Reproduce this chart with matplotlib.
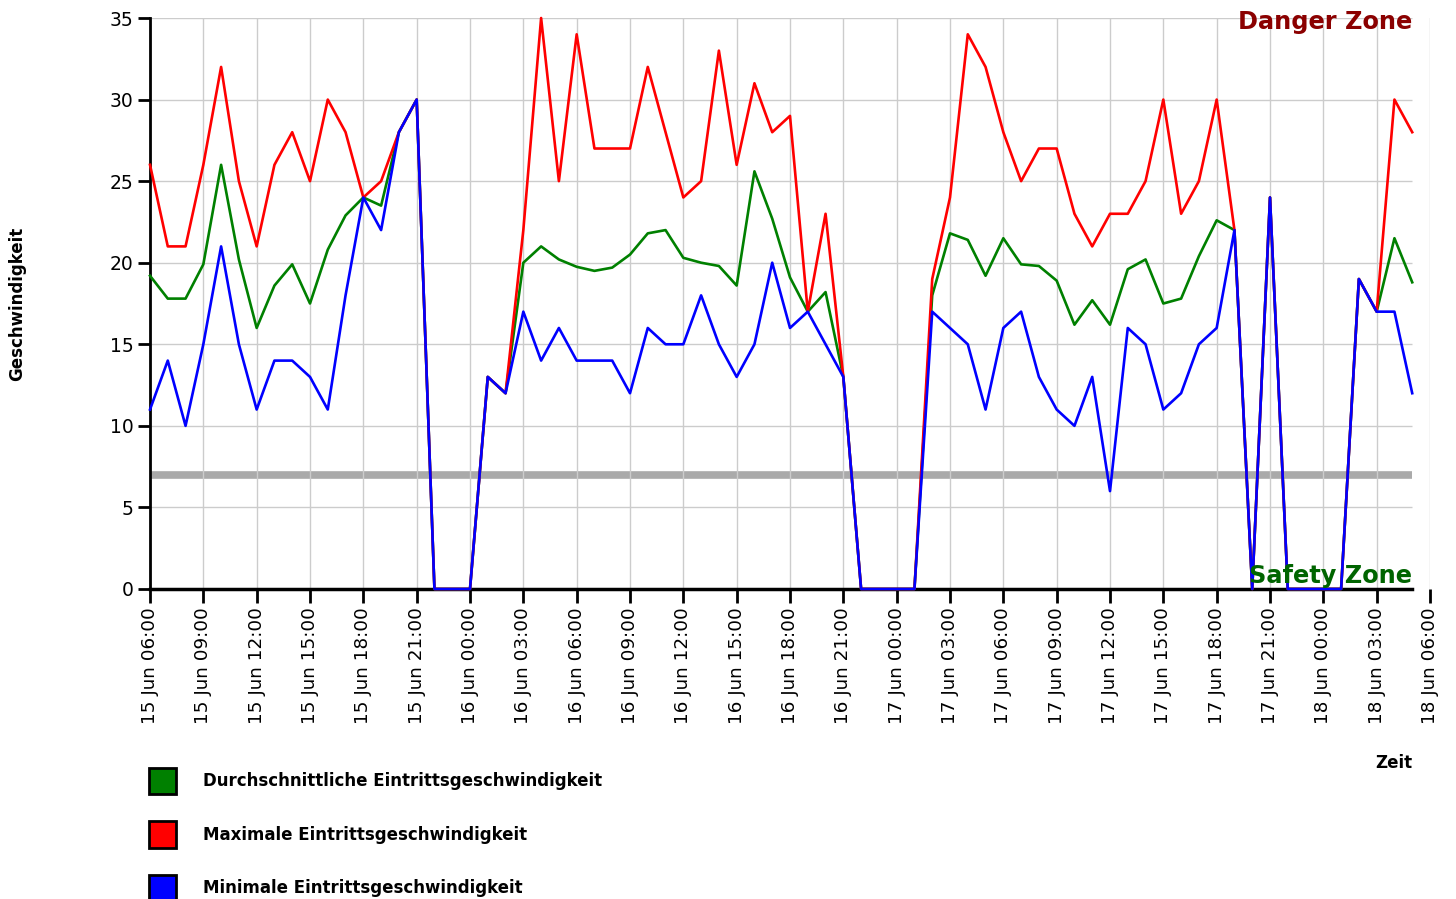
import numpy as np
import pandas as pd
import matplotlib
matplotlib.use('Agg')
import matplotlib.pyplot as plt
import matplotlib.dates as mdates
from matplotlib.patches import Patch

################################## DATA ##################################

# hourly measurements, 15 Jun 06:00 .. 18 Jun 05:00
times = pd.date_range('2024-06-15 06:00', periods=72, freq='h')

avg_speed = [19.2, 17.8, 17.8, 19.9, 26.0, 20.2, 16.0, 18.6, 19.9, 17.5, 20.8, 22.9,
             24.0, 23.5, 28, 30, 0, 0, 0, 13, 12, 20.0, 21.0, 20.2,
             19.75, 19.5, 19.7, 20.5, 21.8, 22.0, 20.3, 20.0, 19.8, 18.6, 25.6, 22.7,
             19.1, 17, 18.2, 13, 0, 0, 0, 0, 18.0, 21.8, 21.4, 19.2,
             21.5, 19.9, 19.8, 18.9, 16.2, 17.7, 16.2, 19.6, 20.2, 17.5, 17.8, 20.4,
             22.6, 22, 0, 24, 0, 0, 0, 0, 19, 17, 21.5, 18.8]

max_speed = [26, 21, 21, 26, 32, 25, 21, 26, 28, 25, 30, 28,
             24, 25, 28, 30, 0, 0, 0, 13, 12, 22, 35, 25,
             34, 27, 27, 27, 32, 28, 24, 25, 33, 26, 31, 28,
             29, 17, 23, 13, 0, 0, 0, 0, 19, 24, 34, 32,
             28, 25, 27, 27, 23, 21, 23, 23, 25, 30, 23, 25,
             30, 22, 0, 24, 0, 0, 0, 0, 19, 17, 30, 28]

min_speed = [11, 14, 10, 15, 21, 15, 11, 14, 14, 13, 11, 18,
             24, 22, 28, 30, 0, 0, 0, 13, 12, 17, 14, 16,
             14, 14, 14, 12, 16, 15, 15, 18, 15, 13, 15, 20,
             16, 17, 15, 13, 0, 0, 0, 0, 17, 16, 15, 11,
             16, 17, 13, 11, 10, 13, 6, 16, 15, 11, 12, 15,
             16, 22, 0, 24, 0, 0, 0, 0, 19, 17, 17, 12]

threshold = 7
y_ticks = [0, 5, 10, 15, 20, 25, 30, 35]

labels = ['Durchschnittliche Eintrittsgeschwindigkeit',
          'Maximale Eintrittsgeschwindigkeit',
          'Minimale Eintrittsgeschwindigkeit']
colors = ['#008000', '#ff0000', '#0000ff']

################################## PLOT ##################################

W, H = 1456, 899
fig = plt.figure(figsize=(W / 100, H / 100), dpi=100)
ax = fig.add_axes([150 / W, 1 - 589 / H, (1430 - 150) / W, (589 - 18) / H])

x = mdates.date2num(times.to_pydatetime())
x_end = x[0] + 72 / 24
ax.xaxis_date()
ax.set_xlim(x[0], x_end)
ax.set_ylim(0, 35)

# grid
ax.grid(axis='x', color='#cccccc', lw=1, zorder=0)
ax.hlines(y_ticks, x[0], x[-1], color='#cccccc', lw=1, zorder=0)
ax.hlines(threshold, x[0], x[-1], color='#aaaaaa', lw=5.5, zorder=1)

for series, c in zip([avg_speed, max_speed, min_speed], colors):
    ax.plot(x, series, color=c, lw=1.9, clip_on=False, zorder=4)

ax.spines['top'].set_visible(False)
ax.spines['right'].set_visible(False)
ax.spines['left'].set_linewidth(2)
ax.spines['bottom'].set_linewidth(2.5)
ax.spines['bottom'].set_bounds(x[0], x[-1])

ax.set_yticks(y_ticks)
ax.xaxis.set_major_locator(mdates.HourLocator(byhour=range(0, 24, 3)))
ax.xaxis.set_major_formatter(mdates.DateFormatter('%d %b %H:%M'))
ax.tick_params(axis='x', direction='out', length=10, width=2, labelsize=13.2,
               labelrotation=90, pad=3)
ax.tick_params(axis='y', direction='out', length=9, width=2, labelsize=13.5, pad=3)

ax.text(x[-1], 34.35, 'Danger Zone', ha='right', va='baseline',
        color='#8b0000', weight='bold', size=17.3, zorder=6)
ax.text(x[-1], 0.35, 'Safety Zone', ha='right', va='baseline',
        color='#006400', weight='bold', size=17.3, zorder=6)

fig.text(17 / W, 1 - 304 / H, 'Geschwindigkeit', rotation=90, ha='center',
         va='center', weight='bold', size=12)
fig.text(1412 / W, 1 - 763 / H, 'Zeit', ha='right', va='center',
         weight='bold', size=12)

handles = [Patch(facecolor=c, edgecolor='black', lw=2, label=l)
           for c, l in zip(colors, labels)]
fig.legend(handles=handles, loc='upper left', bbox_to_anchor=(149 / W, 1 - 768 / H),
           frameon=False, prop={'weight': 'bold', 'size': 12},
           handlelength=1.62, handleheight=2.05, handletextpad=1.62,
           labelspacing=1.62, borderpad=0, borderaxespad=0)

fig.savefig('out.png', dpi=100)
